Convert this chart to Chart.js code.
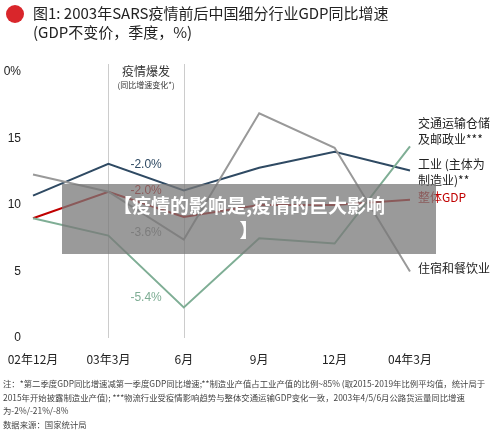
<!DOCTYPE html>
<html><head><meta charset="utf-8">
<script src="https://cdn.jsdelivr.net/npm/chart.js@4"></script>
<style>
body{margin:0;width:500px;height:438px;position:relative;background:#fff;font-family:"Noto Sans CJK SC","Liberation Sans",sans-serif;overflow:hidden}
#c{position:absolute;left:0;top:0}
.t{position:absolute;color:#222}
#logo{position:absolute;left:6px;top:5px;width:18px;height:18px;border-radius:50%;background:#d9262b}
#banner{position:absolute;left:62px;top:184px;width:374px;height:70px;background:rgba(120,120,120,0.75);color:#fff;font-weight:bold;font-size:19px;text-align:center;line-height:25px;padding-top:8px;box-sizing:border-box}
</style></head><body>
<canvas id="c" width="500" height="438"></canvas>
<div id="logo"></div>
<div class="t" style="left:33px;top:2px;font-size:15px">图1: 2003年SARS疫情前后中国细分行业GDP同比增速</div>
<div class="t" style="left:33px;top:21px;font-size:15px">(GDP不变价，季度，%)</div>
<div class="t" style="left:3px;top:377px;font-size:8.4px;line-height:13.5px;width:495px;color:#444">注：*第二季度GDP同比增速减第一季度GDP同比增速;**制造业产值占工业产值的比例~85% (取2015-2019年比例平均值，统计局于2015年开始披露制造业产值); ***物流行业受疫情影响趋势与整体交通运输GDP变化一致，2003年4/5/6月公路货运量同比增速为-2%/-21%/-8%<br>数据来源：国家统计局</div>
<div id="banner">【疫情的影响是,疫情的巨大影响<br>】</div>
<script>
var categories = ['02年12月', '03年3月', '6月', '9月', '12月', '04年3月'];
var industry = [10.7, 13.1, 11.1, 12.8, 14.0, 12.6];
var gdp = [9.0, 11.0, 9.1, 10.0, 10.0, 10.4];
var transport = [9.0, 7.7, 2.3, 7.5, 7.1, 14.4];
var hotel = [12.3, 11.0, 7.4, 16.9, 14.3, 5.0];
var yTicks = [0, 5, 10, 15, 20];

var colors = {industry: '#2f4a63', gdp: '#c00000', transport: '#7fae95', hotel: '#999999'};

var labelsPlugin = {
    id: 'labelsPlugin',
    beforeDatasetsDraw(chart) {
        var c = chart.ctx, x = chart.scales.x, y = chart.scales.y;
        c.save();
        c.strokeStyle = '#cccccc';
        c.lineWidth = 1;
        [1, 2].forEach(function (i) {
            var px = Math.round(x.getPixelForValue(i)) + 0.5;
            c.beginPath(); c.moveTo(px, 64); c.lineTo(px, y.bottom); c.stroke();
        });
        var mid = (x.getPixelForValue(1) + x.getPixelForValue(2)) / 2;
        c.textAlign = 'center';
        c.fillStyle = '#333';
        c.font = '12px "Noto Sans CJK SC"';
        c.fillText('疫情爆发', mid, 76);
        c.font = '8px "Noto Sans CJK SC"';
        c.fillText('(同比增速变化*)', mid, 88);
        c.restore();
    },
    afterDraw(chart) {
        var c = chart.ctx, x = chart.scales.x, y = chart.scales.y;
        var mid = (x.getPixelForValue(1) + x.getPixelForValue(2)) / 2;
        c.save();
        c.font = '12px "Liberation Sans"';
        c.textAlign = 'center';
        [['-2.0%', colors.industry, 168], ['-2.0%', colors.gdp, 194], ['-3.6%', '#888', 236], ['-5.4%', colors.transport, 301]]
            .forEach(function (a) { c.fillStyle = a[1]; c.fillText(a[0], mid, a[2]); });
        c.textAlign = 'left';
        c.font = '12px "Noto Sans CJK SC"';
        var lx = x.right + 8;
        var lab = [
            [['交通运输仓储', '及邮政业***'], '#222', y.getPixelForValue(15.8)],
            [['工业 (主体为', '制造业)**'], '#222', y.getPixelForValue(12.7)],
            [['整体GDP'], colors.gdp, y.getPixelForValue(10.2)],
            [['住宿和餐饮业'], '#222', y.getPixelForValue(4.9)]
        ];
        lab.forEach(function (l) {
            c.fillStyle = l[1];
            l[0].forEach(function (t, i) { c.fillText(t, lx, l[2] + i * 16); });
        });
        c.restore();
    }
};

function ds(data, color) {
    return {data: data, borderColor: color, borderWidth: 2, pointRadius: 0, tension: 0, fill: false};
}

new Chart(document.getElementById('c'), {
    type: 'line',
    data: {
        labels: categories,
        datasets: [ds(hotel, colors.hotel), ds(transport, colors.transport), ds(industry, colors.industry), ds(gdp, colors.gdp)]
    },
    options: {
        responsive: false,
        animation: false,
        layout: {padding: {top: 72, right: 90, left: 4, bottom: 0}},
        plugins: {legend: {display: false}, tooltip: {enabled: false}},
        scales: {
            x: {
                offset: false,
                grid: {display: false},
                border: {display: false},
                ticks: {color: '#222', font: {size: 12, family: 'Noto Sans CJK SC'}, padding: 6, maxRotation: 0, autoSkip: false},
                afterFit: function (s) { s.height = 100; }
            },
            y: {
                min: 0, max: 20,
                afterBuildTicks: function (s) { s.ticks = yTicks.map(function (v) { return {value: v}; }); },
                grid: {display: false},
                border: {display: false},
                ticks: {color: '#222', font: {size: 12, family: 'Liberation Sans'}, padding: 4,
                    callback: function (v) { return v === 20 ? '20%' : v; }},
                afterFit: function (s) { s.width = 29; }
            }
        }
    },
    plugins: [labelsPlugin]
});
</script>
</body></html>
